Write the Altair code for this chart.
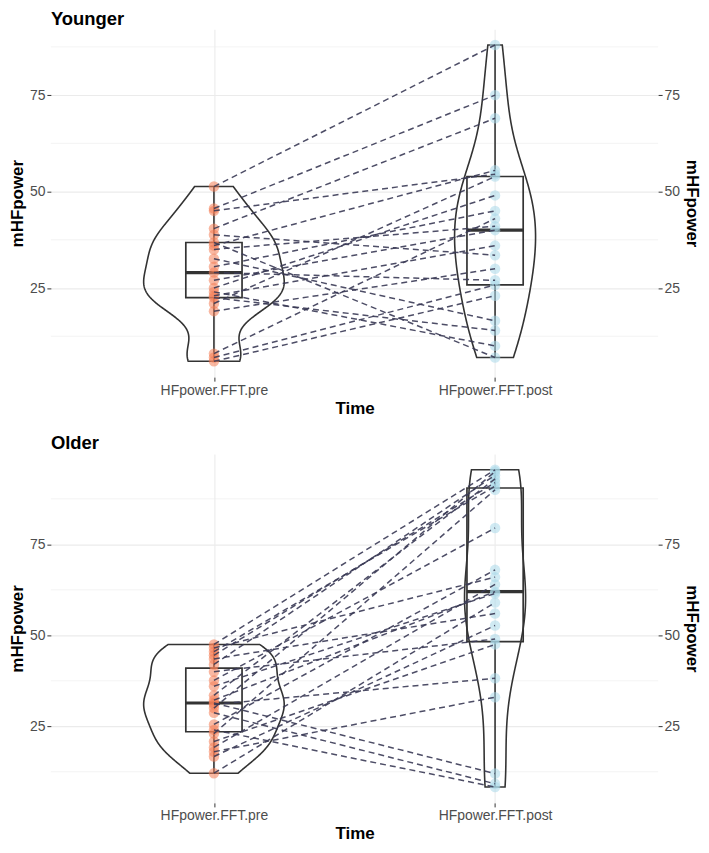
import altair as alt
import numpy as np
import pandas as pd

# ---------------- data ----------------
time_labels = ["HFpower.FFT.pre", "HFpower.FFT.post"]
panel_titles = ["Younger", "Older"]
y_ticks = [25, 50, 75]
minor_grid = [12.5, 37.5, 62.5, 87.5]

# paired values, one entry per subject (same index = same subject)
younger_pre = [51.3, 45.6, 45, 40.4, 38.8, 36.8, 36, 35, 32.6, 30.5, 29,
               27, 25, 24, 23, 22.5, 21, 19, 8, 7, 6]
younger_post = [88, 75, 54.5, 69, 33.5, 7, 55.5, 41, 16.5, 45, 27,
                40, 49, 10, 36, 14, 53.9, 30, 43, 25.8, 23]

older_pre = [47.5, 46.5, 45.5, 44.5, 43.5, 42, 40, 37.6, 36, 33.5, 32.2, 31.4,
             31, 30, 28.7, 25.5, 24, 23, 20.8, 19.2, 18, 16.7, 12.1]
older_post = [95.5, 66, 91, 92, 56, 94, 49, 79.5, 61.5, 93, 62, 12,
              38.2, 95, 9.2, 68, 8.3, 90, 47.5, 64, 33, 52.7, 59]

# ---------------- style ----------------
FONT = "Liberation Sans"
PRE_COLOR = "#f47d55"
POST_COLOR = "#a9d8ea"
LINE_COLOR = "#3a3a55"
BOX_COLOR = "#333333"
GRID_COLOR = "#ebebeb"
VIOLIN_HALF = 0.25
BOX_HALF = 0.1
X_DOMAIN = [0.42, 2.58]
PLOT_W = 609


def nrd0(x):
    x = np.asarray(x, float)
    sd = x.std(ddof=1)
    q75, q25 = np.percentile(x, [75, 25])
    lo = min(sd, (q75 - q25) / 1.34)
    if lo <= 0:
        lo = sd if sd > 0 else 1.0
    return 0.9 * lo * len(x) ** -0.2


def kde_max(x, bw):
    x = np.asarray(x, float)
    g = np.linspace(x.min(), x.max(), 512)
    d = np.exp(-0.5 * ((g[:, None] - x[None, :]) / bw) ** 2).sum(1)
    d = d / (len(x) * bw * np.sqrt(2 * np.pi))
    return d.max()


def xenc(field):
    return alt.X(
        f"{field}:Q",
        scale=alt.Scale(domain=X_DOMAIN, nice=False, zero=False),
        axis=alt.Axis(
            title="Time", values=[1, 2],
            labelExpr=f"datum.value == 1 ? '{time_labels[0]}' : '{time_labels[1]}'",
            grid=True, gridColor=GRID_COLOR, gridWidth=1.1,
            domain=False, ticks=True, tickSize=4, tickColor=BOX_COLOR,
            labelFont=FONT, labelFontSize=14, labelColor="#4d4d4d", labelPadding=2,
            titleFont=FONT, titleFontSize=17, titleFontWeight="bold", titleColor="black",
            titlePadding=3,
        ),
    )


def yaxis(orient, grid):
    return alt.Axis(
        orient=orient, title="mHFpower", values=y_ticks, grid=grid,
        gridColor=GRID_COLOR, gridWidth=1.1, domain=False, ticks=True, tickSize=4,
        tickColor=BOX_COLOR, labelFont=FONT, labelFontSize=14, labelColor="#4d4d4d",
        labelPadding=2, titleFont=FONT, titleFontSize=17, titleFontWeight="bold",
        titleColor="black", titlePadding=3,
    )


def panel(pre, post, title, height):
    n = len(pre)
    allv = list(pre) + list(post)
    rng = max(allv) - min(allv)
    ydom = [min(allv) - 0.05 * rng, max(allv) + 0.05 * rng]
    yscale = alt.Scale(domain=ydom, nice=False, zero=False)

    def yenc(field):
        return alt.Y(f"{field}:Q", scale=yscale, axis=yaxis("left", True))

    df = pd.DataFrame({
        "subject": list(range(n)) * 2,
        "time": [time_labels[0]] * n + [time_labels[1]] * n,
        "pos": [1] * n + [2] * n,
        "value": allv,
    })

    bws = [nrd0(pre), nrd0(post)]
    k = VIOLIN_HALF / max(kde_max(pre, bws[0]), kde_max(post, bws[1]))

    layers = []
    grid = alt.Chart(pd.DataFrame({"g": minor_grid})).mark_rule(
        color=GRID_COLOR, strokeWidth=0.6
    ).encode(y=yenc("g"))
    layers.append(grid)

    for pos, vals, bw in [(1, pre, bws[0]), (2, post, bws[1])]:
        v = alt.Chart(df).transform_filter(
            alt.datum.pos == pos
        ).transform_density(
            "value", as_=["v", "density"], bandwidth=float(bw),
            extent=[float(min(vals)), float(max(vals))], steps=200,
        ).transform_calculate(
            left=f"{pos} - datum.density * {k}",
            right=f"{pos} + datum.density * {k}",
        ).mark_area(
            orient="horizontal", fillOpacity=0, stroke=BOX_COLOR, strokeWidth=1.6
        ).encode(
            y=yenc("v"), x=xenc("left"), x2="right:Q"
        )
        layers.append(v)

    box_base = alt.Chart(df).transform_aggregate(
        q1="q1(value)", med="median(value)", q3="q3(value)",
        lo="min(value)", hi="max(value)", groupby=["pos"],
    ).transform_calculate(
        xl=f"datum.pos - {BOX_HALF}", xr=f"datum.pos + {BOX_HALF}"
    )
    layers.append(box_base.mark_rule(color=BOX_COLOR, strokeWidth=1.6).encode(
        x=xenc("pos"), y=yenc("lo"), y2="q1:Q"))
    layers.append(box_base.mark_rule(color=BOX_COLOR, strokeWidth=1.6).encode(
        x=xenc("pos"), y=yenc("q3"), y2="hi:Q"))
    layers.append(box_base.mark_rect(
        fillOpacity=0, stroke=BOX_COLOR, strokeWidth=1.7
    ).encode(x=xenc("xl"), x2="xr:Q", y=yenc("q1"), y2="q3:Q"))
    layers.append(box_base.mark_rule(color=BOX_COLOR, strokeWidth=3.2).encode(
        x=xenc("xl"), x2="xr:Q", y=yenc("med")))

    pts = alt.Chart(df).mark_circle(size=110, opacity=0.55).encode(
        x=xenc("pos"), y=yenc("value"),
        color=alt.Color("time:N", scale=alt.Scale(domain=time_labels,
                        range=[PRE_COLOR, POST_COLOR]), legend=None),
    )
    layers.append(pts)

    lines = alt.Chart(df).mark_line(
        strokeDash=[6, 4], strokeWidth=1.5, color=LINE_COLOR, opacity=0.9
    ).encode(
        x=xenc("pos"), y=yenc("value"), detail="subject:N", order="pos:Q"
    )
    layers.append(lines)

    inner = alt.layer(*layers)
    right = alt.Chart(df).mark_point(opacity=0).encode(
        x=xenc("pos"),
        y=alt.Y("value:Q", scale=yscale, axis=yaxis("right", False)),
    )
    return alt.layer(inner, right).resolve_scale(y="independent").properties(
        width=PLOT_W, height=height,
        title=alt.TitleParams(text=title, anchor="start", frame="group",
                              font=FONT, fontSize=18.5, fontWeight="bold",
                              color="black", offset=1),
    )


top = panel(younger_pre, younger_post, panel_titles[0], 349)
bottom = panel(older_pre, older_post, panel_titles[1], 350)

chart = alt.vconcat(top, bottom, spacing=18).properties(
    padding={"left": 0, "top": 0, "right": 0, "bottom": 0}
).configure_view(strokeWidth=0)

chart.save("out.html", embed_options={"renderer": "svg", "actions": False})
